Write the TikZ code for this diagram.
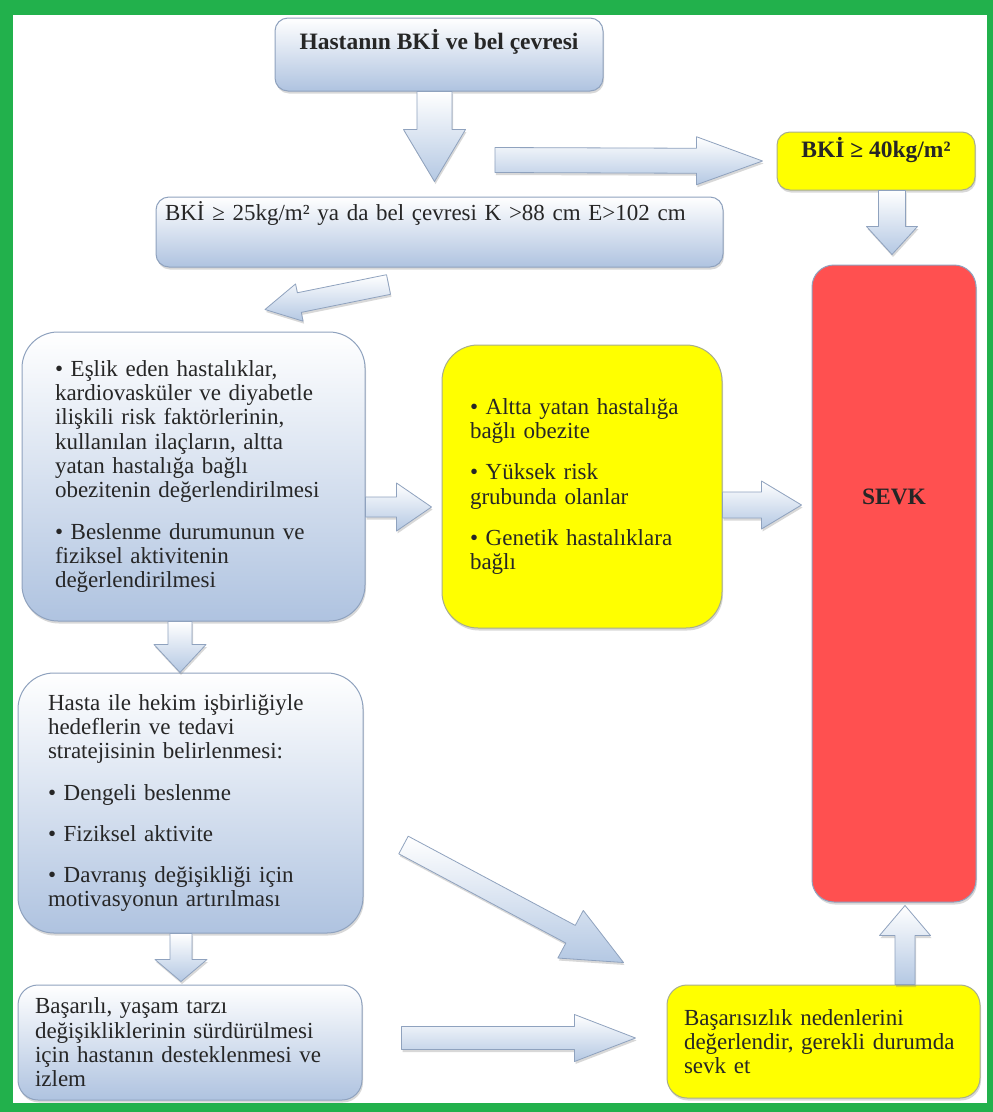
\documentclass[tikz,border=0pt]{standalone}
\usepackage{fontspec}
\setmainfont{Liberation Serif}
\usepackage{tikz}
\usetikzlibrary{calc,shadows}
\definecolor{obGreen}{HTML}{22B14C}
\definecolor{obInk}{HTML}{262626}
\definecolor{obLine}{HTML}{8FA2BE}
\definecolor{obBlue}{HTML}{AFC3E0}
\definecolor{obArrow}{HTML}{B4C8E3}
\definecolor{obYellow}{HTML}{FFFF00}
\definecolor{obYellowLine}{HTML}{A8AE8C}
\definecolor{obRed}{HTML}{FF5050}
\tikzset{
  ob diagram/.style={x=1pt, y=-1pt, font=\fontsize{23}{24.3}\selectfont,
    text=obInk, line join=round},
  ob shape/.style={line width=1pt, inner sep=0pt,
    drop shadow={shadow xshift=1pt, shadow yshift=-2.5pt, opacity=0.3}},
  ob box/.style={ob shape, draw=obLine, top color=white, bottom color=obBlue,
    rounded corners=13pt},
  ob big box/.style={ob box, rounded corners=36pt, align=left},
  ob yellow box/.style={ob shape, draw=obYellowLine, fill=obYellow,
    rounded corners=13pt},
  ob red box/.style={ob shape, draw=obLine, fill=obRed, rounded corners=22pt},
  ob title/.style={font=\fontsize{23.5}{24}\selectfont\bfseries},
  % block arrow: shaft half width, head half width, head length
  ob arrow/.style n args={3}{ob shape, draw=obLine, line width=0.8pt,
    top color=white, bottom color=obArrow,
    to path={let \p1=(\tikztostart), \p2=(\tikztotarget),
      \n1={atan2(\y2-\y1,\x2-\x1)}, \n2={veclen(\x2-\x1,\y2-\y1)-#3} in
      ($(\p1)+({\n1+90}:#1pt)$)
      -- ($(\p1)+(\n1:{\n2*1pt})+({\n1+90}:#1pt)$)
      -- ($(\p1)+(\n1:{\n2*1pt})+({\n1+90}:#2pt)$)
      -- (\p2)
      -- ($(\p1)+(\n1:{\n2*1pt})+({\n1-90}:#2pt)$)
      -- ($(\p1)+(\n1:{\n2*1pt})+({\n1-90}:#1pt)$)
      -- ($(\p1)+({\n1-90}:#1pt)$) -- cycle}}
}
\begin{document}
\begin{tikzpicture}[ob diagram]
\useasboundingbox (0,0) rectangle (993,1112);
\fill[obGreen] (0,0) rectangle (993,1112);
\fill[white] (13,15) rectangle (987,1103);

\node[ob box, ob title, minimum width=328pt, text height=31pt, text depth=42pt]
  (top) at (439,54.5) {Hastanın BKİ ve bel çevresi};
\node[ob box, align=left, text width=549pt, inner xsep=9pt, text height=23pt,
  text depth=47pt] (bmi) at (439.5,232)
  {BKİ ≥ 25kg/m² ya da bel çevresi K >88 cm E>102 cm};
\node[ob yellow box, ob title, minimum width=198pt, text height=25pt,
  text depth=33pt] (bmihigh) at (876,161) {BKİ ≥ 40kg/m²};
\node[ob red box, ob title, minimum width=164pt, text height=239pt,
  text depth=398pt] (sevk) at (894,583.5) {SEVK};

\node[ob big box, text width=277pt, inner xsep=33pt, minimum height=289pt]
  (assess) at (193.5,476.5) {• Eşlik eden hastalıklar,\\ kardiovasküler ve diyabetle\\
  ilişkili risk faktörlerinin,\\ kullanılan ilaçların, altta\\ yatan hastalığa bağlı\\
  obezitenin değerlendirilmesi\\[17pt] • Beslenme durumunun ve\\ fiziksel aktivitenin\\
  değerlendirilmesi};
\node[ob yellow box, rounded corners=36pt, align=left, text width=224pt,
  inner xsep=28pt, minimum height=283pt] (cause) at (582,486.5)
  {• Altta yatan hastalığa\\ bağlı obezite\\[17pt] • Yüksek risk\\ grubunda olanlar\\[17pt]
  • Genetik hastalıklara\\ bağlı};
\node[ob big box, text width=285pt, inner xsep=30pt, minimum height=260pt]
  (plan) at (190.5,803) {Hasta ile hekim işbirliğiyle\\ hedeflerin ve tedavi\\
  stratejisinin belirlenmesi:\\[17pt] • Dengeli beslenme\\[17pt] • Fiziksel aktivite\\[17pt]
  • Davranış değişikliği için\\ motivasyonun artırılması};
\node[ob box, align=left, rounded corners=20pt, text width=310pt, inner xsep=17pt,
  minimum height=115pt] (support) at (190,1042.5) {Başarılı, yaşam tarzı\\
  değişikliklerinin sürdürülmesi\\ için hastanın desteklenmesi ve\\ izlem};
\node[ob yellow box, rounded corners=20pt, align=left, text width=279pt,
  inner xsep=17pt, minimum height=113pt] (fail) at (823.5,1041.5)
  {Başarısızlık nedenlerini\\ değerlendir, gerekli durumda\\ sevk et};

\coordinate (split) at (495,160);
\draw[ob arrow={17.5}{31}{52}] ($(top.south)+(-4.5,0)$) to ($(bmi.north)+(-5,-15)$);
\draw[ob arrow={12.5}{24}{66}] (split) to ($(bmihigh.west)+(-14,0)$);
\draw[ob arrow={13.5}{25.5}{28}] ($(bmihigh.south)+(16,0)$) to ($(sevk.north)+(-2,-10)$);
\draw[ob arrow={10}{19}{35}] ($(bmi.south)+(-51,17)$) to ($(assess.north)+(71.5,-22)$);
\draw[ob arrow={10}{24}{35}] ($(assess.east)+(0,30.5)$) to ($(cause.west)+(-10,20.5)$);
\draw[ob arrow={13}{24}{40}] ($(cause.east)+(0,18.5)$) to ($(sevk.west)+(-10,-78.5)$);
\draw[ob arrow={12}{26}{28}] ($(assess.south)+(-13.5,0)$) to ($(plan.north)+(-10.5,0)$);
\draw[ob arrow={11}{26}{22}] ($(plan.south)+(-9.5,0)$) to ($(support.north)+(-9,-3)$);
\draw[ob arrow={10}{27}{60}] ($(plan.east)+(40,42)$) to ($(fail.north west)+(-43,-22)$);
\draw[ob arrow={11.5}{23.5}{61}] ($(support.east)+(39,-4.5)$) to ($(fail.west)+(-31,-3.5)$);
\draw[ob arrow={10}{25.5}{30}] ($(fail.north)+(81.5,0)$) to ($(sevk.south)+(11,3)$);
\end{tikzpicture}
\end{document}
